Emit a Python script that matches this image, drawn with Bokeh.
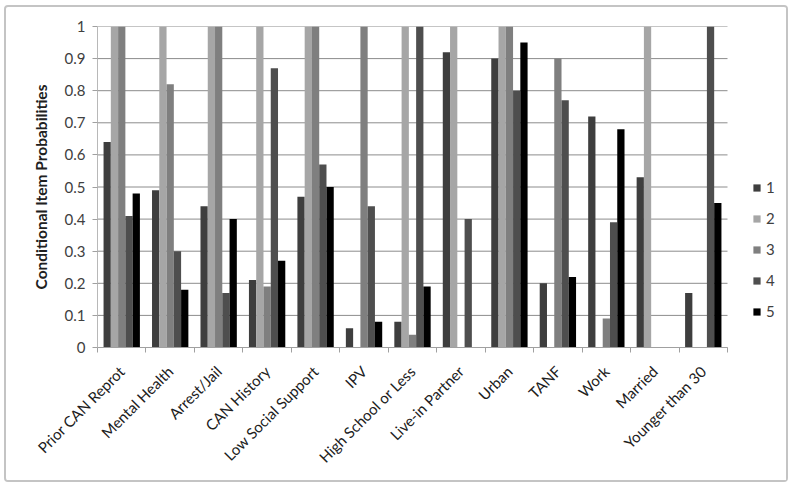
import math
import numpy as np
from bokeh.plotting import figure
from bokeh.models import (Range1d, FixedTicker, LinearAxis, Legend, LegendItem,
                          ColumnDataSource)
from bokeh.embed import file_html
from bokeh.resources import INLINE

categories = ["Prior CAN Reprot", "Mental Health", "Arrest/Jail", "CAN History",
              "Low Social Support", "IPV", "High School or Less", "Live-in Partner",
              "Urban", "TANF", "Work", "Married", "Younger than 30"]
class1 = [0.64, 0.49, 0.44, 0.21, 0.47, 0.06, 0.08, 0.92, 0.90, 0.20, 0.72, 0.53, 0.17]
class2 = [1.00, 1.00, 1.00, 1.00, 1.00, 0.00, 1.00, 1.00, 1.00, 0.00, 0.00, 1.00, 0.00]
class3 = [1.00, 0.82, 1.00, 0.19, 1.00, 1.00, 0.04, 0.00, 1.00, 0.90, 0.09, 0.00, 0.00]
class4 = [0.41, 0.30, 0.17, 0.87, 0.57, 0.44, 1.00, 0.40, 0.80, 0.77, 0.39, 0.00, 1.00]
class5 = [0.48, 0.18, 0.40, 0.27, 0.50, 0.08, 0.19, 0.00, 0.95, 0.22, 0.68, 0.00, 0.45]
series_names = ["1", "2", "3", "4", "5"]
y_ticks = [0, 0.1, 0.2, 0.3, 0.4, 0.5, 0.6, 0.7, 0.8, 0.9, 1]
y_labels = ["0", "0.1", "0.2", "0.3", "0.4", "0.5", "0.6", "0.7", "0.8", "0.9", "1"]

colors = ["#3e3e3e", "#a6a6a6", "#7f7f7f", "#4e4e4e", "#000000"]
FONT = "Lato"
TXT = "#404040"

n = len(categories)
W, H = 784, 477
LEFT = 91
PLOT_W = 630          # pixel width of the category area
frame_w = W - LEFT
x_end = n * frame_w / PLOT_W

p = figure(width=W, height=H, output_backend="svg", toolbar_location=None,
           x_range=Range1d(0, x_end), y_range=Range1d(0, 1),
           min_border_left=LEFT, min_border_right=0, min_border_top=19,
           min_border_bottom=137, x_axis_type=None,
           styles={"border": "2px solid #c4c4c4", "border-radius": "4px",
                   "margin-left": "4px", "margin-top": "5px"})
p.outline_line_color = None
p.background_fill_color = "white"
p.border_fill_color = "white"
p.xgrid.grid_line_color = None
p.ygrid.grid_line_color = None

# horizontal gridlines limited to the category area
p.segment(x0=[0] * len(y_ticks), x1=[n] * len(y_ticks), y0=y_ticks, y1=y_ticks,
          line_color="#8c8c8c", line_width=1)

bar_w = 0.15
series = [class1, class2, class3, class4, class5]
centers = np.arange(n) + 0.5
items = []
for k, (vals, c, nm) in enumerate(zip(series, colors, series_names)):
    xs = centers + (k - 2) * bar_w
    src = ColumnDataSource(dict(x=xs, top=vals))
    r = p.vbar(x="x", top="top", width=bar_w, source=src, fill_color=c,
               line_color=None)
    items.append(LegendItem(label=nm, renderers=[r]))

# x axis with boundary ticks and centered labels
xaxis = LinearAxis(ticker=FixedTicker(ticks=list(centers), minor_ticks=list(range(n + 1))),
                   bounds=(0, n))
xaxis.major_label_overrides = {float(c): lab for c, lab in zip(centers, categories)}
xaxis.major_tick_in = 0
xaxis.major_tick_out = 0
xaxis.minor_tick_in = 0
xaxis.minor_tick_out = 5
xaxis.minor_tick_line_color = "#a0a0a0"
xaxis.axis_line_color = "#a0a0a0"
xaxis.major_label_orientation = math.pi / 4
xaxis.major_label_text_font = FONT
xaxis.major_label_text_font_size = "15px"
xaxis.major_label_text_color = "#202020"
xaxis.major_label_standoff = 16
p.add_layout(xaxis, "below")

yaxis = p.yaxis[0]
yaxis.ticker = FixedTicker(ticks=y_ticks)
yaxis.major_label_overrides = {t: l for t, l in zip(y_ticks, y_labels)}
yaxis.minor_tick_line_color = None
yaxis.major_tick_in = 0
yaxis.major_tick_out = 5
yaxis.major_tick_line_color = "#a0a0a0"
yaxis.axis_line_color = "#b8b8b8"
yaxis.major_label_text_font = FONT
yaxis.major_label_text_font_size = "15px"
yaxis.major_label_text_color = TXT
yaxis.major_label_standoff = 7
yaxis.axis_label = "Conditional Item Probabilities"
yaxis.axis_label_text_font = FONT
yaxis.axis_label_text_font_style = "bold"
yaxis.axis_label_text_font_size = "15.5px"
yaxis.axis_label_text_color = "#202020"
yaxis.axis_label_standoff = 12

legend = Legend(items=items, location=(655, 27), orientation="vertical")
legend.glyph_width = 9
legend.glyph_height = 9
legend.label_text_font = FONT
legend.label_text_font_size = "15px"
legend.label_text_color = TXT
legend.label_standoff = 5
legend.spacing = 13
legend.padding = 0
legend.margin = 0
legend.border_line_color = None
legend.background_fill_alpha = 0
p.add_layout(legend, "center")

open("out.html", "w").write(file_html(p, INLINE))
